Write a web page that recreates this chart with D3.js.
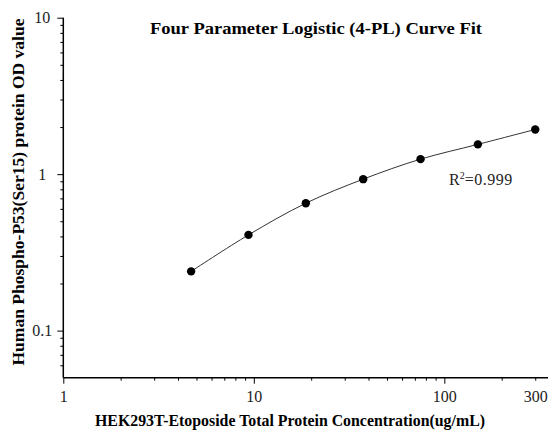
<!DOCTYPE html>
<html>
<head>
<meta charset="utf-8">
<script src="https://cdn.jsdelivr.net/npm/d3@7"></script>
<style>
  body { margin: 0; background: #fff; }
  svg { font-family: "Liberation Serif", "Times New Roman", serif; }
  .axis path, .axis line { stroke: #000; }
  .axis path { stroke-width: 1.5; }
  .axis text { font-size: 16px; fill: #222; font-family: "Liberation Serif", serif; }
  .title { font-weight: bold; font-size: 17.5px; }
  .label { font-weight: bold; font-size: 16px; }
</style>
</head>
<body>
<div id="chart"></div>
<script>
// concentration (ug/mL) and measured OD
const concentration = [4.6875, 9.375, 18.75, 37.5, 75, 150, 300];
const odValue = [0.239, 0.409, 0.652, 0.929, 1.247, 1.55, 1.93];

const xMajor = [1, 10, 100];
const xMinor = [2, 3, 4, 5, 6, 7, 8, 9, 20, 30, 40, 50, 60, 70, 80, 90, 200, 300];
const yMajor = [0.1, 1, 10];
const yMinor = [0.06, 0.07, 0.08, 0.09, 0.2, 0.3, 0.4, 0.5, 0.6, 0.7, 0.8, 0.9,
                2, 3, 4, 5, 6, 7, 8, 9];

const width = 550, height = 430;
const margin = {top: 17.7, right: 2, bottom: 52.3, left: 63.3};

const svg = d3.select('#chart').append('svg')
    .attr('width', width).attr('height', height);

const x = d3.scaleLog([1, 350], [margin.left, width - margin.right]);
const y = d3.scaleLog([0.05, 10], [height - margin.bottom, margin.top]);

// axes
const gx = svg.append('g').attr('class', 'axis')
    .attr('transform', `translate(0,${height - margin.bottom})`);
gx.call(d3.axisBottom(x).tickValues(xMinor).tickSize(3).tickPadding(10)
    .tickFormat(d => d === 300 ? '300' : ''));
gx.append('g').call(d3.axisBottom(x).tickValues(xMajor).tickSize(6).tickPadding(7)
    .tickFormat(d3.format('~g')))
  .select('.domain').remove();

const gy = svg.append('g').attr('class', 'axis')
    .attr('transform', `translate(${margin.left},0)`);
gy.call(d3.axisLeft(y).tickValues(yMinor).tickSize(3).tickFormat(''));
gy.append('g').call(d3.axisLeft(y).tickValues(yMajor).tickSize(6).tickPadding(8)
    .tickFormat(d3.format('~g')))
  .select('.domain').remove();
gy.selectAll('text').attr('text-anchor', 'middle').attr('x', -21);
gy.selectAll('.domain').attr('d', `M0,${y.range()[0]}V${y.range()[1]}`);
gx.selectAll('.domain').attr('d', `M${x.range()[0]},0H${x.range()[1]}`);

const points = concentration.map((c, i) => [c, odValue[i]]);

// fitted curve
svg.append('path')
    .datum(points)
    .attr('fill', 'none')
    .attr('stroke', '#333')
    .attr('stroke-width', 1)
    .attr('d', d3.line(d => x(d[0]), d => y(d[1])).curve(d3.curveCatmullRom));

svg.selectAll('circle.dot')
  .data(points)
  .join('circle')
    .attr('class', 'dot')
    .attr('cx', d => x(d[0]))
    .attr('cy', d => y(d[1]))
    .attr('r', 4.2)
    .attr('fill', '#000');

// texts
svg.append('text').attr('class', 'title')
    .attr('x', 316).attr('y', 34)
    .attr('text-anchor', 'middle')
    .attr('textLength', 332).attr('lengthAdjust', 'spacingAndGlyphs')
    .text('Four Parameter Logistic (4-PL) Curve Fit');

svg.append('text').attr('class', 'label')
    .attr('x', 290).attr('y', 426)
    .attr('text-anchor', 'middle')
    .attr('textLength', 390).attr('lengthAdjust', 'spacingAndGlyphs')
    .text('HEK293T-Etoposide Total Protein Concentration(ug/mL)');

svg.append('text').attr('class', 'label')
    .attr('transform', 'translate(24,192)rotate(-90)')
    .attr('text-anchor', 'middle')
    .attr('textLength', 347).attr('lengthAdjust', 'spacingAndGlyphs')
    .text('Human Phospho-P53(Ser15) protein OD value');

const r2 = svg.append('text')
    .attr('x', 449).attr('y', 185)
    .attr('font-size', 16)
    .attr('fill', '#222');
r2.append('tspan').text('R');
r2.append('tspan').attr('dy', -6).attr('font-size', 10).text('2');
r2.append('tspan').attr('dy', 6).attr('letter-spacing', 0.5).text('=0.999');
</script>
</body>
</html>
